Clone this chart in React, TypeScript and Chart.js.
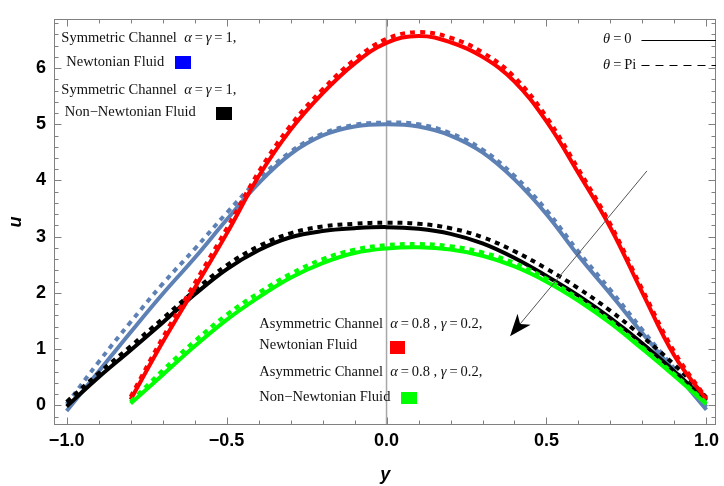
import React, { useEffect, useRef } from "react";
import { Chart, registerables } from "chart.js";

Chart.register(...registerables);

// horizontal coordinate (labelled "y" in the chart)
const yCoordSym = [-1.0, -0.9, -0.8, -0.7, -0.6, -0.5, -0.4, -0.3, -0.2, -0.1, 0, 0.1, 0.2, 0.3, 0.4, 0.5, 0.6, 0.7, 0.8, 0.9, 1.0];
const yCoordAsym = [-0.8, -0.7, -0.6, -0.5, -0.4, -0.3, -0.2, -0.1, 0, 0.1, 0.2, 0.3, 0.4, 0.5, 0.6, 0.7, 0.8, 0.9, 1.0];

// Symmetric channel, Newtonian (blue)
const symNewtonTheta0 = [-0.1, 0.6, 1.3, 1.98, 2.62, 3.3, 3.95, 4.47, 4.8, 4.96, 5.0, 4.96, 4.8, 4.5, 4.02, 3.4, 2.66, 1.98, 1.28, 0.6, -0.08];
const symNewtonThetaPi = [0.02, 0.77, 1.48, 2.16, 2.78, 3.42, 4.02, 4.51, 4.83, 4.99, 5.03, 5.0, 4.84, 4.55, 4.08, 3.47, 2.73, 2.05, 1.34, 0.65, -0.03];
// Symmetric channel, Non-Newtonian (black)
const symNonNewtonTheta0 = [-0.02, 0.5, 0.98, 1.47, 1.97, 2.42, 2.76, 2.99, 3.1, 3.15, 3.17, 3.14, 3.05, 2.88, 2.62, 2.3, 1.95, 1.55, 1.1, 0.6, 0.08];
const symNonNewtonThetaPi = [0.06, 0.57, 1.05, 1.54, 2.04, 2.49, 2.83, 3.06, 3.18, 3.23, 3.25, 3.23, 3.15, 2.99, 2.74, 2.43, 2.08, 1.68, 1.22, 0.72, 0.14];
// Asymmetric channel, Newtonian (red)
const asymNewtonTheta0 = [0.1, 1.12, 2.08, 3.05, 4.07, 4.9, 5.55, 6.08, 6.45, 6.57, 6.46, 6.2, 5.76, 5.05, 4.13, 3.16, 2.0, 0.88, 0.1];
const asymNewtonThetaPi = [0.15, 1.2, 2.17, 3.14, 4.15, 4.98, 5.62, 6.15, 6.52, 6.64, 6.54, 6.28, 5.84, 5.13, 4.2, 3.22, 2.06, 0.95, 0.12];
// Asymmetric channel, Non-Newtonian (green)
const asymNonNewtonTheta0 = [0.03, 0.54, 1.05, 1.52, 1.92, 2.27, 2.53, 2.71, 2.79, 2.81, 2.77, 2.66, 2.47, 2.2, 1.86, 1.46, 1.0, 0.52, 0.02];
const asymNonNewtonThetaPi = [0.06, 0.62, 1.14, 1.61, 2.0, 2.34, 2.6, 2.77, 2.85, 2.87, 2.83, 2.72, 2.53, 2.25, 1.9, 1.5, 1.03, 0.55, 0.04];

const xTickValues = [-1.0, -0.5, 0, 0.5, 1.0];
const uTickValues = [0, 1, 2, 3, 4, 5, 6];

const BLUE = "#5E81B5";
const RED = "#FF0000";
const BLACK = "#000000";
const GREEN = "#00FF00";

const pts = (xs: number[], ys: number[]) => xs.map((x, i) => ({ x, y: ys[i] }));

type Seg = { t: string; i?: boolean };

const SERIF = "'Liberation Serif', 'Times New Roman', serif";
const FS = 14.5;
const TS = "\u2009"; // thin space

function drawRich(ctx: CanvasRenderingContext2D, segs: Seg[], x: number, y: number) {
  let cx = x;
  ctx.textBaseline = "middle";
  ctx.textAlign = "left";
  for (const s of segs) {
    ctx.font = `${s.i ? "italic " : ""}${FS}px ${SERIF}`;
    ctx.fillText(s.t, cx, y);
    cx += ctx.measureText(s.t).width;
  }
}

const symLine: Seg[] = [{ t: "Symmetric Channel  " }, { t: "α", i: true }, { t: TS + "=" + TS }, { t: "γ", i: true }, { t: TS + "=" + TS + "1," }];
const asymLine: Seg[] = [{ t: "Asymmetric Channel  " }, { t: "α", i: true }, { t: TS + "=" + TS + "0.8 , " }, { t: "γ", i: true }, { t: TS + "=" + TS + "0.2," }];

const overlayPlugin = {
  id: "overlay",
  beforeDatasetsDraw(chart: any) {
    const { ctx, chartArea: a, scales } = chart;
    const xs = scales.x;
    ctx.save();
    const x0 = xs.getPixelForValue(0);
    ctx.strokeStyle = "#a8a8a8";
    ctx.lineWidth = 1.5;
    ctx.beginPath();
    ctx.moveTo(x0, a.top);
    ctx.lineTo(x0, a.bottom);
    ctx.stroke();
    ctx.restore();
  },
  afterDatasetsDraw(chart: any) {
    const { ctx, chartArea: a, scales } = chart;
    const xs = scales.x;
    const ys = scales.y;
    const px = (v: number) => xs.getPixelForValue(v);
    const py = (v: number) => ys.getPixelForValue(v);
    ctx.save();
    // frame
    ctx.strokeStyle = "#808080";
    ctx.lineWidth = 1;
    const L = Math.round(a.left) + 0.5, R = Math.round(a.right) - 0.5;
    const T = Math.round(a.top) + 0.5, B = Math.round(a.bottom) - 0.5;
    ctx.strokeRect(L, T, R - L, B - T);
    ctx.beginPath();
    for (let k = -10; k <= 10; k++) {
      const v = k / 10;
      const X = Math.round(px(v)) + 0.5;
      const len = k % 5 === 0 ? 7 : 4;
      ctx.moveTo(X, B); ctx.lineTo(X, B - len);
      ctx.moveTo(X, T); ctx.lineTo(X, T + len);
    }
    for (let k = -1; k <= 34; k++) {
      const v = k / 5;
      if (v < ys.min || v > ys.max) continue;
      const Y = Math.round(py(v)) + 0.5;
      const len = k % 5 === 0 ? 7 : 4;
      ctx.moveTo(L, Y); ctx.lineTo(L + len, Y);
      ctx.moveTo(R, Y); ctx.lineTo(R - len, Y);
    }
    ctx.stroke();

    // arrow
    const ax1 = px(0.814), ay1 = py(4.17), ax2 = px(0.386), ay2 = py(1.23);
    ctx.strokeStyle = "#555";
    ctx.lineWidth = 1;
    const ang = Math.atan2(ay2 - ay1, ax2 - ax1);
    const hl = 22, hw = 8.5;
    const bx = ax2 - Math.cos(ang) * hl * 0.72, by = ay2 - Math.sin(ang) * hl * 0.72;
    ctx.beginPath();
    ctx.moveTo(ax1, ay1);
    ctx.lineTo(bx, by);
    ctx.stroke();
    ctx.fillStyle = "#000";
    ctx.beginPath();
    ctx.moveTo(ax2, ay2);
    ctx.lineTo(ax2 - Math.cos(ang) * hl - Math.sin(ang) * hw, ay2 - Math.sin(ang) * hl + Math.cos(ang) * hw);
    ctx.lineTo(bx, by);
    ctx.lineTo(ax2 - Math.cos(ang) * hl + Math.sin(ang) * hw, ay2 - Math.sin(ang) * hl - Math.cos(ang) * hw);
    ctx.closePath();
    ctx.fill();

    // annotations
    ctx.fillStyle = "#111";
    drawRich(ctx, symLine, px(-1.0166), py(6.526));
    drawRich(ctx, [{ t: "Newtonian Fluid" }], px(-1.001), py(6.102));
    drawRich(ctx, symLine, px(-1.0166), py(5.608));
    drawRich(ctx, [{ t: "Non−Newtonian Fluid" }], px(-1.006), py(5.22));
    drawRich(ctx, asymLine, px(-0.3975), py(1.446));
    drawRich(ctx, [{ t: "Newtonian Fluid" }], px(-0.3975), py(1.076));
    drawRich(ctx, asymLine, px(-0.3975), py(0.582));
    drawRich(ctx, [{ t: "Non−Newtonian Fluid" }], px(-0.3975), py(0.141));

    const square = (cxv: number, cyv: number, w: number, h: number, c: string) => {
      ctx.fillStyle = c;
      ctx.fillRect(Math.round(px(cxv) - w / 2), Math.round(py(cyv) - h / 2), w, h);
    };
    square(-0.6377, 6.093, 16, 13, "#0000FF");
    square(-0.5069, 5.194, 16, 13, "#000000");
    square(0.0336, 1.032, 15, 13, RED);
    square(0.0695, 0.132, 16, 12, GREEN);

    // theta legend
    ctx.fillStyle = "#111";
    drawRich(ctx, [{ t: "θ", i: true }, { t: TS + "=" + TS + "0" }], px(0.677), py(6.508));
    drawRich(ctx, [{ t: "θ", i: true }, { t: TS + "=" + TS + "Pi" }], px(0.677), py(6.049));
    ctx.strokeStyle = "#000";
    ctx.lineWidth = 1;
    ctx.beginPath();
    ctx.moveTo(px(0.797), Math.round(py(6.508)) + 0.5);
    ctx.lineTo(px(1.03), Math.round(py(6.508)) + 0.5);
    ctx.stroke();
    ctx.setLineDash([8, 6]);
    ctx.beginPath();
    ctx.moveTo(px(0.797), Math.round(py(6.049)) + 0.5);
    ctx.lineTo(px(1.03), Math.round(py(6.049)) + 0.5);
    ctx.stroke();
    ctx.restore();
  },
};

const line = (data: any, color: string, dashed: boolean) => ({
  data,
  borderColor: color,
  backgroundColor: color,
  borderWidth: 4,
  borderDash: dashed ? [5, 5] : [],
  pointRadius: 0,
  fill: false,
  tension: 0.4,
  borderCapStyle: "butt" as const,
});

export default function App() {
  const ref = useRef<HTMLCanvasElement | null>(null);
  useEffect(() => {
    document.body.style.margin = "0";
    const canvas = ref.current!;
    const chart = new Chart(canvas, {
      type: "line",
      data: {
        datasets: [
          line(pts(yCoordAsym, asymNonNewtonThetaPi), GREEN, true),
          line(pts(yCoordAsym, asymNonNewtonTheta0), GREEN, false),
          line(pts(yCoordAsym, asymNewtonThetaPi), RED, true),
          line(pts(yCoordAsym, asymNewtonTheta0), RED, false),
          line(pts(yCoordSym, symNonNewtonThetaPi), BLACK, true),
          line(pts(yCoordSym, symNonNewtonTheta0), BLACK, false),
          line(pts(yCoordSym, symNewtonThetaPi), BLUE, true),
          line(pts(yCoordSym, symNewtonTheta0), BLUE, false),
        ] as any,
      },
      options: {
        animation: false,
        responsive: false,
        maintainAspectRatio: false,
        layout: { padding: { top: 13, right: 4, left: 0, bottom: 0 } },
        plugins: { legend: { display: false }, tooltip: { enabled: false } },
        scales: {
          x: {
            type: "linear",
            min: -1.0395,
            max: 1.031,
            grid: { display: false, drawTicks: false },
            border: { display: false },
            afterFit: (s: any) => { s.height = 61; },
            afterBuildTicks: (s: any) => { s.ticks = xTickValues.map((v) => ({ value: v })); },
            ticks: {
              autoSkip: false,
              maxRotation: 0,
              padding: 5,
              color: "#000",
              font: { family: "'Liberation Sans', Arial, sans-serif", size: 18, weight: "bold" },
              callback: (v: any) => (Number(v) < 0 ? "−" : "") + Math.abs(Number(v)).toFixed(1),
            },
            title: {
              display: true,
              text: "y",
              color: "#000",
              padding: { top: 0, bottom: 0 },
              font: { family: "'Liberation Sans', Arial, sans-serif", size: 18, weight: "bold", style: "italic" },
            },
          },
          y: {
            type: "linear",
            min: -0.351,
            max: 6.877,
            grid: { display: false, drawTicks: false },
            border: { display: false },
            afterFit: (s: any) => { s.width = 54; },
            afterBuildTicks: (s: any) => { s.ticks = uTickValues.map((v) => ({ value: v })); },
            ticks: {
              autoSkip: false,
              padding: 8,
              color: "#000",
              font: { family: "'Liberation Sans', Arial, sans-serif", size: 18, weight: "bold" },
              callback: (v: any) => String(v),
            },
            title: {
              display: true,
              text: "u",
              color: "#000",
              padding: { top: 5, bottom: 0 },
              font: { family: "'Liberation Sans', Arial, sans-serif", size: 18, weight: "bold", style: "italic" },
            },
          },
        },
      },
      plugins: [overlayPlugin],
    });
    return () => chart.destroy();
  }, []);
  return <canvas ref={ref} width={724} height={486} style={{ display: "block" }} />;
}
